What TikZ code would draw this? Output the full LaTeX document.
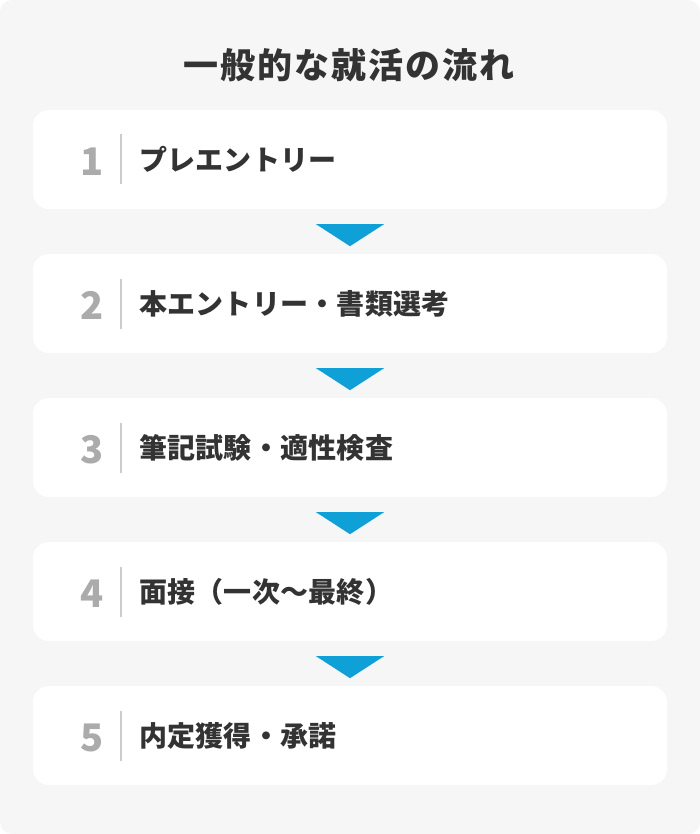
\documentclass[tikz,border=0pt]{standalone}
\usepackage{fontspec}
\setmainfont{Noto Sans CJK JP}
\usetikzlibrary{calc}
\definecolor{bgc}{HTML}{F6F6F6}
\definecolor{numc}{HTML}{ABABAB}
\definecolor{txtc}{HTML}{333333}
\definecolor{sepc}{HTML}{CCCCCC}
\definecolor{bluec}{HTML}{0EA0D6}
\tikzset{
  stepbox/.style={fill=white, rounded corners=16pt, minimum width=634pt, minimum height=99pt, inner sep=0pt},
  numlabel/.style={text=numc, font=\fontsize{38}{42}\selectfont\bfseries, inner sep=0pt},
  steplabel/.style={text=txtc, font=\fontsize{28}{32}\selectfont\bfseries\addfontfeature{LetterSpace=1}, anchor=west, inner sep=0pt},
  sepline/.style={draw=sepc, line width=1.6pt},
  tri/.style={fill=bluec},
}
\begin{document}
\begin{tikzpicture}[x=1pt,y=-1pt]
\useasboundingbox (0,0) rectangle (700,834);
\fill[bgc, rounded corners=12pt] (0,0) rectangle (700,834);
\node[text=txtc, font=\fontsize{35}{39}\selectfont\bfseries\addfontfeature{LetterSpace=6}, inner sep=0pt] (title) at (349,65) {一般的な就活の流れ};
\foreach \i/\t in {1/プレエントリー, 2/本エントリー・書類選考, 3/筆記試験・適性検査, 4/面接（一次〜最終）, 5/内定獲得・承諾}{
  \node[stepbox] (b\i) at (350,{159.5+144*(\i-1)}) {};
  \node[numlabel] (n\i) at ($(b\i.west)+(59,2)$) {\i};
  \coordinate (s\i a) at ($(b\i.west)+(88,-25)$);
  \coordinate (s\i b) at ($(b\i.west)+(88,25)$);
  \draw[sepline] (s\i a) -- (s\i b);
  \node[steplabel] (t\i) at ($(b\i.west)+(106,0)$) {\t};
}
\foreach \i in {1,2,3,4}{
  \fill[tri] ($(b\i.south)+(-34,15)$) -- ($(b\i.south)+(34,15)$) -- ($(b\i.south)+(0,37)$) -- cycle;
}
\end{tikzpicture}
\end{document}
